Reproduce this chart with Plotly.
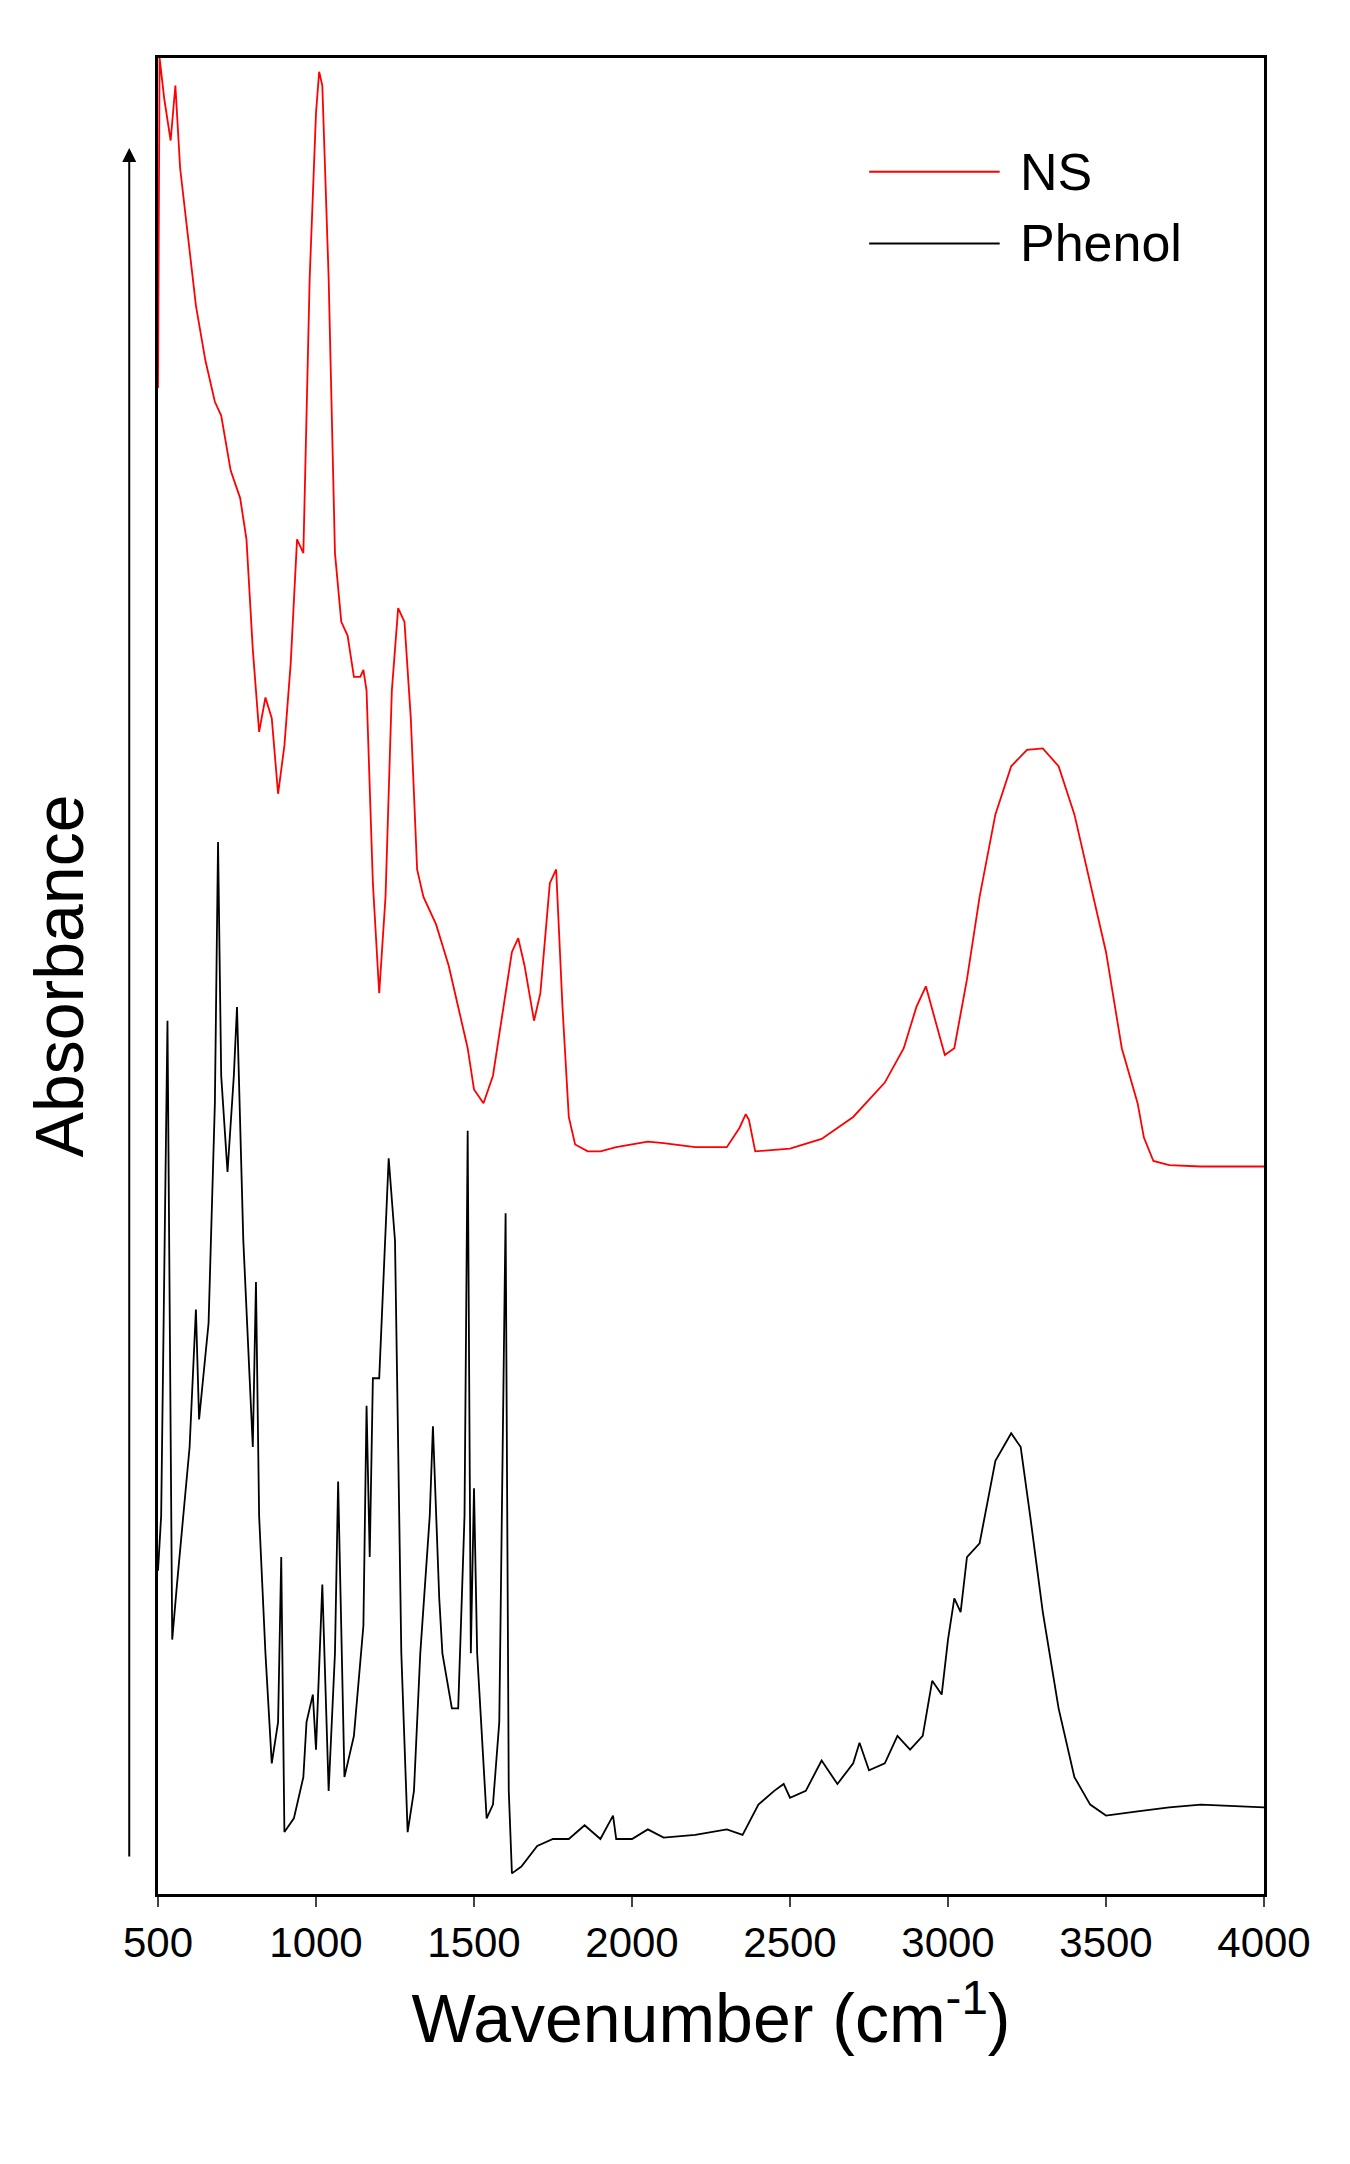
import plotly.graph_objects as go

ns_wn = [500,505,520,540,555,570,590,620,650,680,700,730,760,780,800,820,840,860,880,900,920,940,960,980,1000,1010,1020,1040,1060,1080,1100,1120,1140,1150,1160,1180,1200,1220,1240,1260,1280,1300,1320,1340,1380,1420,1450,1480,1500,1530,1560,1600,1620,1640,1660,1690,1710,1740,1760,1780,1800,1820,1860,1900,1950,2000,2050,2100,2200,2300,2340,2360,2370,2390,2450,2500,2600,2700,2800,2860,2900,2930,2960,2990,3020,3060,3100,3150,3200,3250,3300,3350,3400,3450,3500,3550,3600,3620,3650,3700,3800,3900,4000]
ns_px = [280,40,70,100,60,120,160,220,260,290,300,340,360,390,470,530,505,520,575,540,480,390,400,200,80,50,60,200,400,450,460,490,490,485,500,640,720,650,500,440,450,520,630,650,670,700,730,760,790,800,780,720,690,680,700,740,720,640,630,730,810,830,835,835,832,830,828,829,832,832,818,808,812,835,834,833,826,810,785,760,730,715,740,765,760,710,650,590,555,543,542,555,590,640,690,760,800,825,842,845,846,846,846]

ph_wn = [500,510,530,545,560,600,620,630,660,680,690,700,720,740,750,770,790,800,810,820,840,860,880,890,900,930,960,970,990,1000,1020,1040,1060,1070,1090,1120,1150,1160,1170,1180,1200,1230,1250,1270,1290,1310,1330,1360,1370,1390,1400,1430,1450,1470,1480,1490,1500,1510,1540,1560,1580,1600,1610,1620,1650,1700,1750,1800,1850,1900,1940,1950,2000,2050,2100,2200,2300,2350,2400,2450,2480,2500,2550,2600,2650,2700,2720,2750,2800,2840,2880,2920,2950,2980,3000,3020,3040,3060,3100,3150,3200,3230,3260,3300,3350,3400,3450,3500,3600,3700,3800,4000]
ph_px = [1140,1100,740,1190,1150,1050,950,1030,960,800,610,780,850,780,730,900,1000,1050,930,1100,1200,1280,1250,1130,1330,1320,1290,1250,1230,1270,1150,1300,1200,1075,1290,1260,1180,1020,1130,1000,1000,840,900,1200,1330,1300,1200,1100,1035,1160,1200,1240,1240,1100,820,1200,1080,1200,1320,1310,1250,880,1300,1360,1355,1340,1335,1335,1325,1335,1318,1335,1335,1328,1334,1332,1328,1332,1310,1300,1295,1305,1300,1278,1295,1280,1265,1285,1280,1260,1270,1260,1220,1230,1190,1160,1170,1130,1120,1060,1040,1050,1100,1170,1240,1290,1310,1318,1315,1312,1310,1312]

ns_abs = [(1375 - v) / 1335 for v in ns_px]
ph_abs = [(1375 - v) / 1335 for v in ph_px]

x_ticks = [500, 1000, 1500, 2000, 2500, 3000, 3500, 4000]
series_names = ["NS", "Phenol"]
colors = ["#ff0000", "#000000"]

fig = go.Figure()
fig.add_trace(go.Scatter(x=ns_wn, y=ns_abs, mode="lines", name=series_names[0],
                         line=dict(color=colors[0], width=1.8), showlegend=False))
fig.add_trace(go.Scatter(x=ph_wn, y=ph_abs, mode="lines", name=series_names[1],
                         line=dict(color=colors[1], width=1.8), showlegend=False))

font = "Liberation Sans, Arial, sans-serif"
# Manual legend
for i, (nm, c) in enumerate(zip(series_names, colors)):
    yy = [0.938, 0.899][i]
    fig.add_shape(type="line", xref="paper", yref="paper", x0=0.643, x1=0.761, y0=yy, y1=yy,
                  line=dict(color=c, width=2))
    fig.add_annotation(xref="paper", yref="paper", x=0.778, y=yy, text=nm, showarrow=False,
                       xanchor="left", yanchor="middle", font=dict(family=font, size=52, color="black"))

# Vertical arrow left of axis
fig.add_annotation(xref="paper", yref="paper", x=-0.026, y=0.951, ax=0, ay=1717,
                   text=" ", showarrow=True, arrowhead=2, arrowsize=1.4, arrowwidth=2, arrowcolor="black")

fig.update_layout(
    width=1350, height=2164,
    margin=dict(l=150, r=94, t=50, b=278),
    paper_bgcolor="white", plot_bgcolor="white",
    font=dict(family=font, color="black"),
    xaxis=dict(range=[500, 4000], tickvals=x_ticks, ticks="outside", ticklen=10, tickwidth=2,
               showline=True, linewidth=3, linecolor="black", mirror=True, showgrid=False, zeroline=False,
               tickfont=dict(size=42),
               title=dict(text="Wavenumber (cm<sup>-1</sup>)", font=dict(size=68), standoff=30)),
    yaxis=dict(range=[0, 1], showticklabels=False, ticks="", showline=True, linewidth=3,
               linecolor="black", mirror=True, showgrid=False, zeroline=False,
               title=dict(text="Absorbance", font=dict(size=68), standoff=50)),
)

fig.write_html("out.html")
